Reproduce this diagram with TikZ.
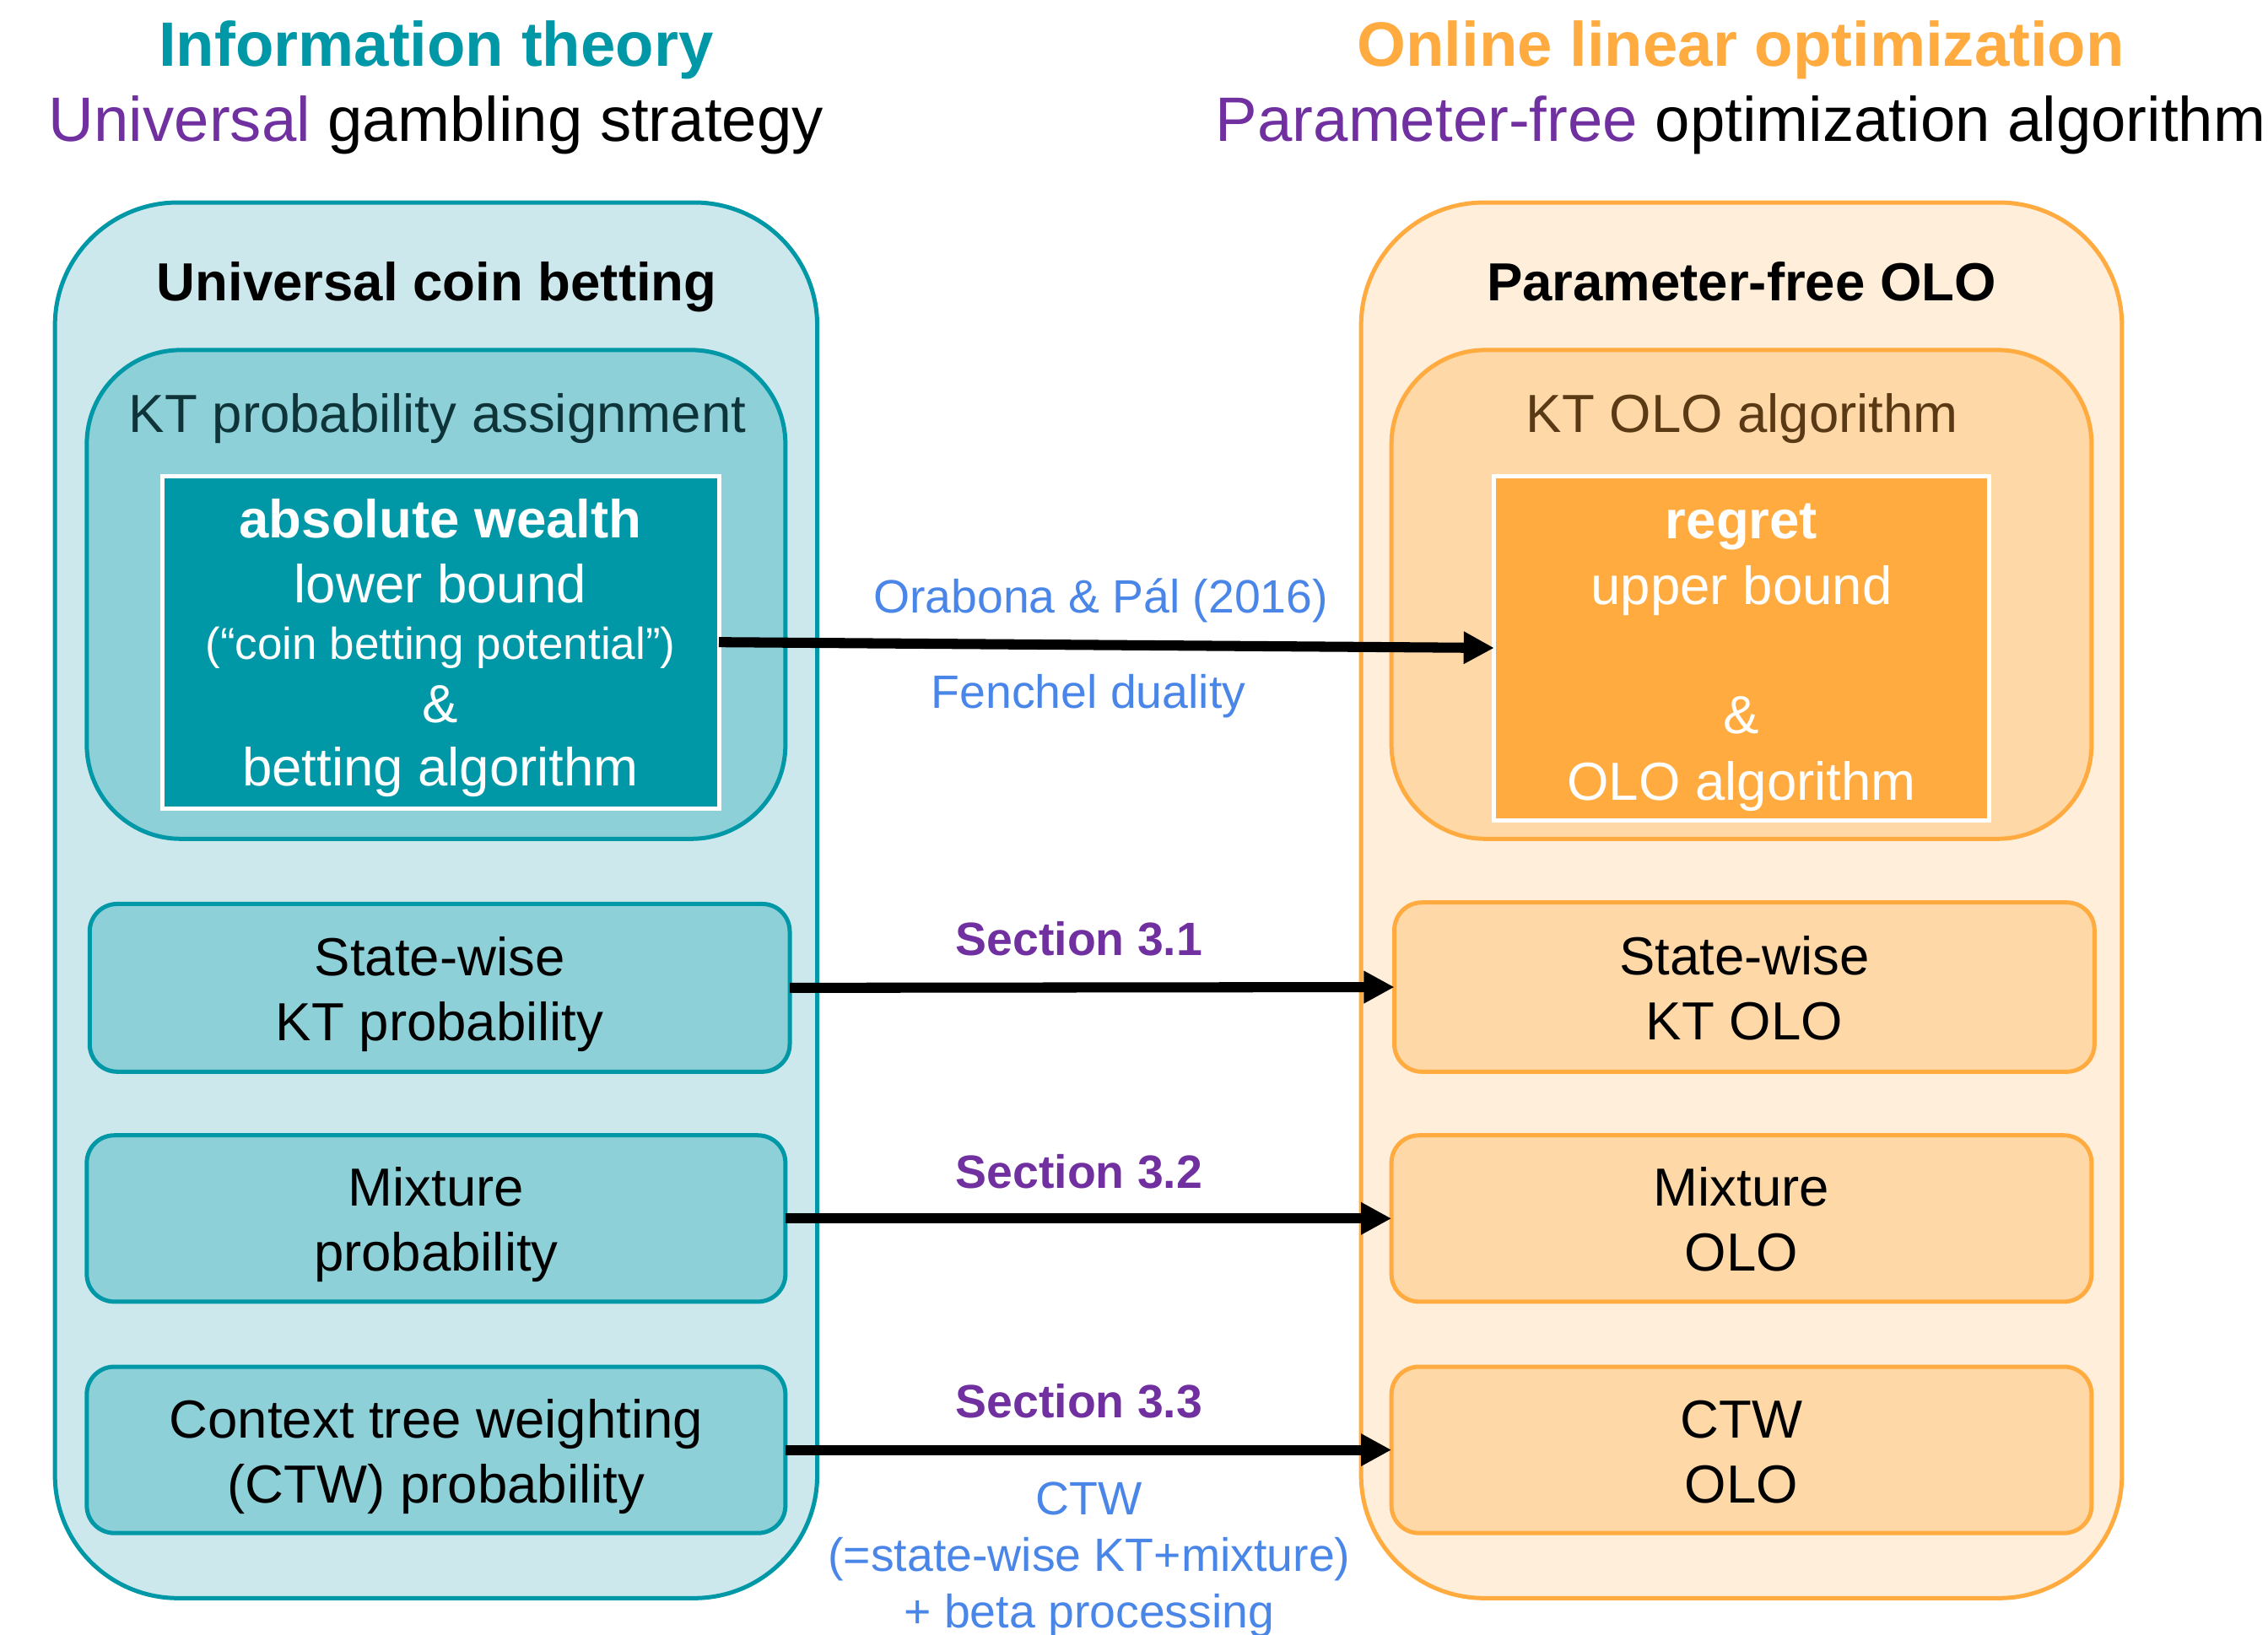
\documentclass[tikz,border=0pt]{standalone}
\usepackage{fontspec}
\setmainfont{Liberation Sans}
\usetikzlibrary{arrows.meta,fit,calc}

\definecolor{tealmain}{RGB}{0,151,167}
\definecolor{tealpale}{RGB}{204,232,236}
\definecolor{tealmid}{RGB}{142,208,216}
\definecolor{tealink}{RGB}{14,52,58}
\definecolor{orgmain}{RGB}{255,171,64}
\definecolor{orgpale}{RGB}{255,238,217}
\definecolor{orgmid}{RGB}{255,216,168}
\definecolor{orgink}{RGB}{90,58,20}
\definecolor{purp}{RGB}{112,48,160}
\definecolor{refblue}{RGB}{74,134,232}

\begin{document}
\begin{tikzpicture}[x=0.02cm,y=-0.02cm,
  every node/.style={inner sep=0pt, outer sep=0pt},
  panelL/.style={draw=tealmain, fill=tealpale, line width=1.66pt, rounded corners=1.7cm},
  groupL/.style={draw=tealmain, fill=tealmid, line width=1.66pt, rounded corners=1.3cm},
  itemL/.style={draw=tealmain, fill=tealmid, line width=1.66pt, rounded corners=0.38cm},
  coreL/.style={draw=white, fill=tealmain, line width=1.66pt},
  panelR/.style={draw=orgmain, fill=orgpale, line width=1.66pt, rounded corners=1.7cm},
  groupR/.style={draw=orgmain, fill=orgmid, line width=1.66pt, rounded corners=1.3cm},
  itemR/.style={draw=orgmain, fill=orgmid, line width=1.66pt, rounded corners=0.38cm},
  coreR/.style={draw=white, fill=orgmain, line width=1.66pt},
  headtext/.style={font=\fontsize{24.7}{30}\selectfont, anchor=base},
  headbold/.style={font=\fontsize{24.7}{30}\selectfont\bfseries, anchor=base},
  maintext/.style={font=\fontsize{21.1}{25.6}\selectfont, align=center, anchor=base},
  mainbold/.style={font=\fontsize{21.1}{25.6}\selectfont\bfseries, anchor=base},
  labeltext/.style={font=\fontsize{18.4}{22.8}\selectfont, text=refblue, align=center, anchor=base},
  sectext/.style={font=\fontsize{18.4}{22.8}\selectfont\bfseries, text=purp, anchor=base},
  arr/.style={line width=4pt, -{Triangle[length=12pt,width=12pt]}}
]
\useasboundingbox (0,0) rectangle (1568,1130);

% column headings
\node[headbold, text=tealmain] (ith) at (301.5,45.5) {Information theory};
\node[headtext] (ugs) at (301.5,97.5) {\textcolor{purp}{Universal} gambling strategy};
\node[headbold, text=orgmain] (olo) at (1203.5,45.5) {Online linear optimization};
\node[headtext] (pfo) at (1203.5,97.5) {\textcolor{purp}{Parameter-free} optimization algorithm};

% left panel: universal coin betting
% (multi-line texts are placed by the baseline of their last line)
\node[panelL, fit={(38,140)(565,1105)}] (lp) {};
\node[mainbold] (lpt) at (302,208) {Universal coin betting};
\node[groupL, fit={(60,242)(543,580)}] (lg) {};
\node[maintext, text=tealink] (lgt) at (302.5,299) {KT probability assignment};
\node[coreL, fit={(112,329)(497,559)}] (dw) {};
\node[maintext, text=white, font=\fontsize{21.1}{25}\selectfont] (dwt) at ($(dw.center)+(0,99.5)$)
  {\textbf{absolute wealth}\\[0.6pt]lower bound\\[-2.9pt]{\fontsize{17.6}{25}\selectfont(“coin betting potential”)}\\\&\\betting algorithm};
\node[itemL, fit={(62,625)(546,741)}] (ls) {};
\node[maintext] (lst) at ($(ls.center)+(0,36.5)$) {State-wise\\KT probability};
\node[itemL, fit={(60,785)(543,900)}] (lm) {};
\node[maintext] (lmt) at ($(lm.center)+(0,36.5)$) {Mixture\\probability};
\node[itemL, fit={(60,945)(543,1060)}] (lc) {};
\node[maintext] (lct) at ($(lc.center)+(0,36.5)$) {Context tree weighting\\(CTW) probability};

% right panel: parameter-free OLO
\node[panelR, fit={(941,140)(1467,1105)}] (rp) {};
\node[mainbold] (rpt) at (1204,208) {Parameter-free OLO};
\node[groupR, fit={(962,242)(1446,580)}] (rgp) {};
\node[maintext, text=orgink] (rgpt) at (1204.5,299) {KT OLO algorithm};
\node[coreR, fit={(1033,329)(1375,567)}] (rg) {};
\node[maintext, text=white, font=\fontsize{21.1}{26.2}\selectfont] (rgt) at ($(rg.center)+(0,105.3)$)
  {\textbf{regret}\\upper bound\\[24.5pt]\&\\OLO algorithm};
\node[itemR, fit={(964,624)(1448,741)}] (rs) {};
\node[maintext] (rst) at ($(rs.center)+(0,36.5)$) {State-wise\\KT OLO};
\node[itemR, fit={(962,785)(1446,900)}] (rm) {};
\node[maintext] (rmt) at ($(rm.center)+(0,36.5)$) {Mixture\\OLO};
\node[itemR, fit={(962,945)(1446,1060)}] (rc) {};
\node[maintext] (rct) at ($(rc.center)+(0,36.5)$) {CTW\\OLO};

% correspondences
\draw[arr] (dw.east) -- (rg.west);
\draw[arr] (ls.east) -- (rs.west);
\draw[arr] (lm.east) -- (rm.west);
\draw[arr] (lc.east) -- (rc.west);

% connector labels
\node[labeltext] (la1) at (761,423.6) {Orabona \& Pál (2016)};
\node[labeltext] (la2) at (752.5,489.5) {Fenchel duality};
\node[sectext] (s1) at (746,660.5) {Section 3.1};
\node[sectext] (s2) at (746,821.5) {Section 3.2};
\node[sectext] (s3) at (746,980.5) {Section 3.3};
\node[labeltext, font=\fontsize{18.4}{22.3}\selectfont] (la3) at (753,1125.5)
  {CTW\\(=state-wise KT+mixture)\\+ beta processing};
\end{tikzpicture}
\end{document}
